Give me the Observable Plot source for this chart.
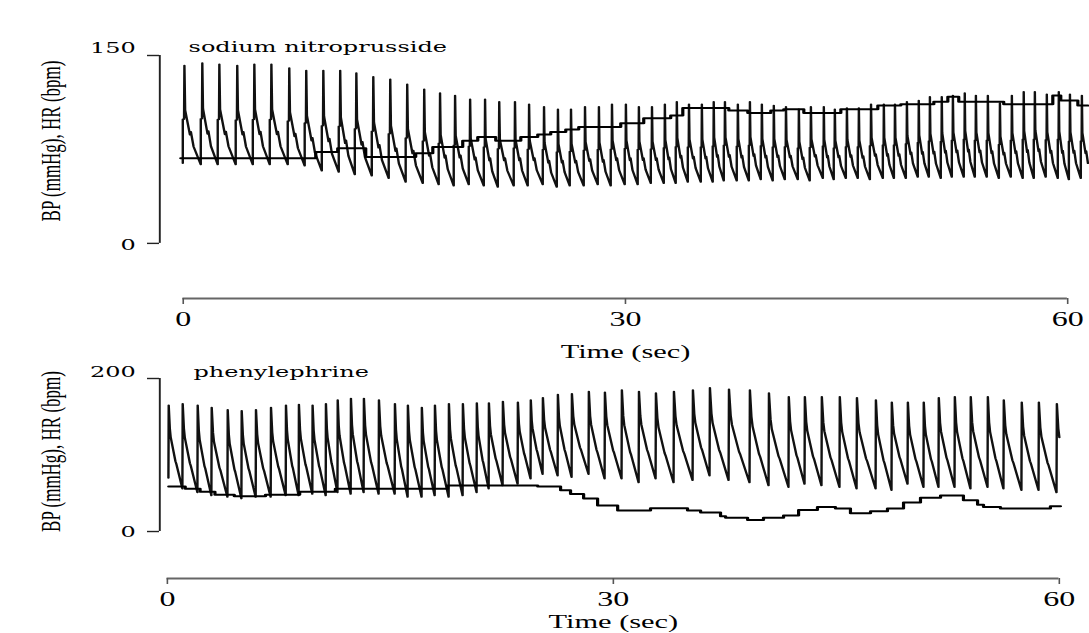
<!DOCTYPE html>
<html>
<head>
<meta charset="utf-8">
<script src="https://cdn.jsdelivr.net/npm/d3@7"></script>
<script src="https://cdn.jsdelivr.net/npm/@observablehq/plot@0.6"></script>
<style>
html, body { margin: 0; padding: 0; background: #fff; width: 1089px; height: 633px; overflow: hidden; }
.panel { width: 680.625px; transform: scaleX(1.6); transform-origin: 0 0; }
.panel svg { display: block; }
</style>
</head>
<body>
<div id="p1" class="panel"></div>
<div id="p2" class="panel"></div>
<script>
// ---------- shared text / ticks ----------
const yLabel = "BP (mmHg), HR (bpm)";
const xLabel = "Time (sec)";
const xTicks = [0, 30, 60];

// ---------- top panel: sodium nitroprusside ----------
const topTitle = "sodium nitroprusside";
const topYTicks = [0, 150];
// beat onset times (s)
const topBeatTimes = [-0.03,1.19,2.34,3.56,4.72,5.87,7.09,8.24,9.40,10.55,
  11.64,12.79,13.94,15.09,16.25,17.33,18.35,19.37,20.39,21.34,
  22.42,23.37,24.39,25.34,26.22,27.17,28.12,29.00,29.95,30.83,
  31.72,32.60,33.41,34.23,35.11,35.92,36.67,37.55,38.37,39.18,
  39.99,40.81,41.69,42.50,43.39,44.13,44.95,45.76,46.58,47.46,
  48.21,49.02,49.83,50.58,51.39,52.14,52.95,53.70,54.51,55.33,
  56.14,56.95,57.70,58.51,59.33,60.08,60.89];
// systolic peak per beat (mmHg)
const topSystolic = [142,144,143,142,143,143,140,138,138,138,
  136,133,131,127,123,120,118,115,115,113,
  113,111,109,107,107,109,109,111,111,109,
  109,111,113,111,111,113,113,111,113,111,
  110,109,107,109,109,107,108,108,111,111,
  111,113,114,117,117,118,120,118,118,112,
  118,121,121,119,121,119,118];
// diastolic trough at start of each beat (mmHg)
const topDiastolic = [64,63,63,63,63,63,63,62,58,57,
  55,54,52,49,48,47,46,47,46,45,
  46,46,47,45,46,46,47,46,47,47,
  48,48,48,49,49,49,50,50,50,51,
  50,51,51,50,52,51,52,52,51,52,
  52,52,53,53,52,53,53,53,53,52,
  53,52,52,53,52,51,52];
// heart rate steps
const topHrTimes = [-0.17,8.99,10.48,12.38,15.77,16.93,18.96,19.98,21.20,22.90,24.05,24.93,25.95,26.83,29.68,31.24,33.07,33.89,37.01,38.30,39.86,40.74,42.10,44.61,47.12,48.68,50.92,51.87,52.61,55.66,58.99,59.53,60.69,61.37];
const topHr = [68,73,76,69,72,77,82,85,82,85,87,89,91,93,96,100,102,108,106,104,106,107,104,107,110,111,113,117,113,111,118,114,110,110];
const topEnd = 61.4;

// ---------- bottom panel: phenylephrine ----------
const botTitle = "phenylephrine";
const botYTicks = [0, 200];
const botBeatTimes = [0.07,1.01,2.02,2.96,4.04,4.98,5.94,6.95,7.96,8.83,
  9.75,10.65,11.44,12.33,13.2,14.21,15.29,16.16,17.1,17.98,
  18.92,19.86,20.8,21.61,22.55,23.56,24.43,25.24,26.25,27.19,
  28.33,29.41,30.55,31.7,32.84,34.05,35.33,36.47,37.75,39.16,
  40.44,41.78,42.86,44.0,45.21,46.36,47.64,48.71,49.79,50.86,
  51.87,52.95,54.02,55.17,56.24,57.45,58.6,59.81];
const botSystolic = [165,167,165,162,159,158,159,162,165,166,
  165,167,172,174,174,172,167,165,162,165,
  167,167,168,168,170,169,172,175,179,180,
  183,182,185,183,181,183,185,188,186,185,
  181,176,176,176,176,175,172,169,169,169,
  175,176,176,176,172,169,169,167];
const botDiastolic = [70,56,51,47,45,43,45,45,47,47,
  49,47,51,49,51,49,49,45,45,47,
  45,47,51,56,60,62,69,75,73,71,
  75,69,69,64,69,64,67,73,67,64,
  60,58,62,60,58,56,56,54,62,58,
  58,58,56,58,56,54,54,51];
const botHrTimes = [0.09,1.2,2.2,3.2,4.5,6.6,8.9,11.3,18.85,24.91,
  26.45,27.12,28.0,28.94,30.29,32.5,34.99,35.87,37.21,37.55,
  39.03,40.1,41.45,42.46,43.73,44.94,45.95,47.3,48.44,49.52,
  50.66,52.01,53.55,54.5,54.9,56.04,59.4,60.08];
const botHr = [59,56,52,48,46,48,52,56,60,59,
  54,49,43,34,27.5,30.5,27.5,25,20,18,
  15,18,21,28,32,30,24,26.5,30,38,
  44,47,41,35,32,30,33,33];
const botEnd = 60.1;

// ---------- drawing ----------
const S = 1.6;            // horizontal stretch of the scanned figure
const W = 1089 / S;

// pulse outline within a beat: [phase of period, fraction of pulse pressure, measured from onset trough?]
const topShape = [[0,0,1],[0,0.45,1],[0.07,0.45,1],[0.09,1,1],[0.13,0.55,0],[0.4,0.3,0],[0.45,0.33,0],[0.6,0.18,0]];
const botShape = [[0,0,1],[0.02,1,1],[0.1,0.72,0],[0.16,0.62,0],[0.5,0.33,0],[0.56,0.3,0]];

function buildWave(times, sys, dia, shape, end) {
  const pts = [];
  let last = null;
  times.forEach((t0, i) => {
    const t1 = i + 1 < times.length ? times[i + 1] : t0 + (t0 - times[i - 1]);
    const d0 = dia[i], d1 = i + 1 < dia.length ? dia[i + 1] : dia[i], s = sys[i], P = t1 - t0;
    for (const [ph, fr, fromStart] of shape) {
      const base = fromStart ? d0 : d1;
      pts.push({t: t0 + ph * P, v: base + fr * (s - base)});
    }
    last = {t: t1, v: d1};
  });
  pts.push(last);
  return pts.filter(p => p.t <= end);
}

const serif = "'Liberation Serif', 'Times New Roman', serif";
const deja = "'DejaVu Serif', serif";

function makePanel(c) {
  const wave = buildWave(c.beats, c.sys, c.dia, c.shape, c.end);
  const hr = c.hrTimes.map((t, i) => ({t, v: c.hr[i]}));
  return Plot.plot({
    width: W, height: c.height,
    marginTop: c.marginTop, marginBottom: c.marginBottom, marginLeft: 159 / S, marginRight: 0,
    style: {background: "white", overflow: "visible", fontFamily: serif, color: "black"},
    x: {domain: c.xDomain, axis: null, label: null},
    y: {domain: c.yDomain, axis: null, label: null},
    marks: [
      Plot.ruleX([c.xDomain[0]], {y1: c.yTicks[0], y2: c.yTicks[1], stroke: "#222", strokeWidth: 1.2}),
      Plot.axisY(c.yTicks, {tickSize: 7.5, tickFormat: () => "", stroke: "#222", strokeWidth: 1.4}),
      Plot.axisY([c.yTicks[1]], {tickSize: 0, tickPadding: 15, dy: c.topTickDy, fontSize: 15, fontFamily: deja}),
      Plot.axisY([c.yTicks[0]], {tickSize: 0, tickPadding: 15, dy: c.zeroTickDy, fontSize: 15, fontFamily: deja}),
      Plot.ruleY([c.yDomain[0]], {x1: xTicks[0], x2: xTicks[xTicks.length - 1], stroke: "#666", strokeWidth: 1.8}),
      Plot.axisX(xTicks, {tickSize: 6, tickPadding: 7, fontSize: 20, fontFamily: serif, stroke: "#555"}),
      Plot.line(wave, {x: "t", y: "v", stroke: "#111", strokeWidth: 1.5}),
      Plot.line(hr, {x: "t", y: "v", curve: "step-after", stroke: "#000", strokeWidth: 2}),
      Plot.text([c.title], {text: d => d, frameAnchor: "top-left", textAnchor: "start", lineAnchor: "middle",
        dx: c.titleDx, dy: c.titleDy, fontSize: 15, fontFamily: deja}),
      Plot.text([yLabel], {text: d => d, frameAnchor: "left", rotate: -90, textAnchor: "middle", lineAnchor: "middle",
        dx: -68, dy: c.labelDy, fontSize: 17, fontFamily: serif}),
      Plot.text([xLabel], {text: d => d, x: () => xTicks[1], frameAnchor: "bottom", lineAnchor: "middle",
        dy: c.timeDy, fontSize: 19, fontFamily: serif})
    ]
  });
}

document.getElementById("p1").append(makePanel({
  beats: topBeatTimes, sys: topSystolic, dia: topDiastolic, shape: topShape, end: topEnd,
  hrTimes: topHrTimes, hr: topHr, title: topTitle, yTicks: topYTicks,
  height: 365, marginTop: 55, marginBottom: 67, xDomain: [-1.59, 61.5], yDomain: [-44, 150],
  topTickDy: -7, zeroTickDy: 2, titleDx: 18, titleDy: -8, labelDy: -36, timeDy: 53
}));
document.getElementById("p2").append(makePanel({
  beats: botBeatTimes, sys: botSystolic, dia: botDiastolic, shape: botShape, end: botEnd,
  hrTimes: botHrTimes, hr: botHr, title: botTitle, yTicks: botYTicks,
  height: 268, marginTop: 13, marginBottom: 55, xDomain: [-0.51, 62.05], yDomain: [-61.4, 200],
  topTickDy: -6, zeroTickDy: 1, titleDx: 21, titleDy: -6, labelDy: -27, timeDy: 43
}));
</script>
</body>
</html>
